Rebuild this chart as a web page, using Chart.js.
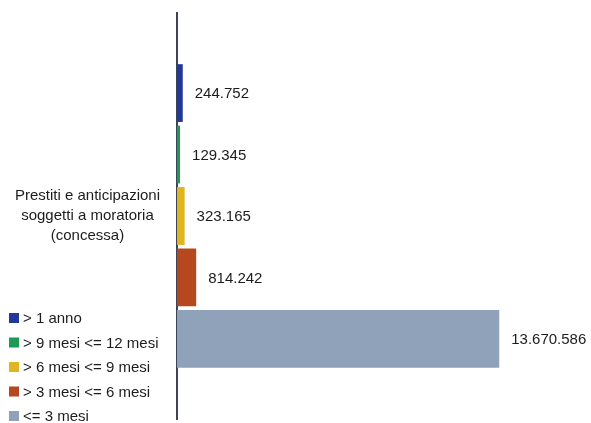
<!DOCTYPE html>
<html>
<head>
<meta charset="utf-8">
<script src="https://cdn.jsdelivr.net/npm/chart.js@4"></script>
<style>
    html, body { margin: 0; padding: 0; background: #fff; }
    #wrap { width: 591px; height: 423px; }
</style>
</head>
<body>
<div id="wrap"><canvas id="myChart"></canvas></div>
<script>
// ---------------------------------------- data ----------------------------------------
const categories = [["Prestiti e anticipazioni", "soggetti a moratoria", "(concessa)"]];
const seriesLabels = ["> 1 anno", "> 9 mesi <= 12 mesi", "> 6 mesi <= 9 mesi", "> 3 mesi <= 6 mesi", "<= 3 mesi"];
const seriesValues = [[244752], [129345], [323165], [814242], [13670586]];
const seriesColors = ["#22399a", "#1f9a55", "#dfb520", "#b5481f", "#8fa2ba"];

const FONT = "'Liberation Sans', Arial, sans-serif";

// italian thousands separator
const formatNum = (v) => String(v).replace(/\B(?=(\d{3})+(?!\d))/g, ".");

// ---------------------------------------- value labels next to bars ----------------------------------------
const valueLabels = {
    id: "valueLabels",
    afterDatasetsDraw(chart) {
        const ctx = chart.ctx;
        ctx.save();
        ctx.font = "15px " + FONT;
        ctx.fillStyle = "#1c1c1c";
        ctx.textAlign = "left";
        ctx.textBaseline = "middle";
        chart.data.datasets.forEach((ds, i) => {
            chart.getDatasetMeta(i).data.forEach((bar, j) => {
                ctx.fillText(formatNum(ds.data[j]), bar.x + 12, bar.y + 1);
            });
        });
        ctx.restore();
    }
};

// ---------------------------------------- legend bottom left ----------------------------------------
const sideLegend = {
    id: "sideLegend",
    afterDraw(chart) {
        const ctx = chart.ctx;
        ctx.save();
        ctx.font = "15px " + FONT;
        ctx.textBaseline = "middle";
        ctx.textAlign = "left";
        chart.data.datasets.forEach((ds, i) => {
            const y = 318 + i * 24.5;
            ctx.fillStyle = ds.backgroundColor;
            ctx.fillRect(9, y - 5, 10, 10);
            ctx.fillStyle = "#1c1c1c";
            ctx.fillText(ds.label, 23, y + 1);
        });
        ctx.restore();
    }
};

const datasets = seriesLabels.map((label, i) => ({
    label: label,
    data: seriesValues[i],
    backgroundColor: seriesColors[i],
    borderWidth: 0,
    categoryPercentage: 0.757,
    barPercentage: 0.94
}));

new Chart(document.getElementById("myChart"), {
    type: "bar",
    data: {
        labels: categories,
        datasets: datasets
    },
    options: {
        indexAxis: "y",
        responsive: true,
        maintainAspectRatio: false,
        animation: false,
        layout: { padding: { top: 13, bottom: 4, left: 0, right: 84 } },
        plugins: {
            legend: { display: false },
            tooltip: { enabled: false }
        },
        scales: {
            x: {
                display: false,
                min: 0,
                max: 14000000
            },
            y: {
                z: 1,
                grid: { display: false, drawTicks: false },
                border: { display: true, color: "#3c4458", width: 2 },
                ticks: {
                    crossAlign: "center",
                    padding: 17,
                    color: "#1c1c1c",
                    font: { family: FONT, size: 15, lineHeight: 1.35 }
                },
                afterFit: (scale) => {
                    // fixed axis width, and no extra room for the tall multi-line label
                    scale.width = 177;
                    scale.paddingTop = 0;
                    scale.paddingBottom = 0;
                }
            }
        }
    },
    plugins: [valueLabels, sideLegend]
});
</script>
</body>
</html>
